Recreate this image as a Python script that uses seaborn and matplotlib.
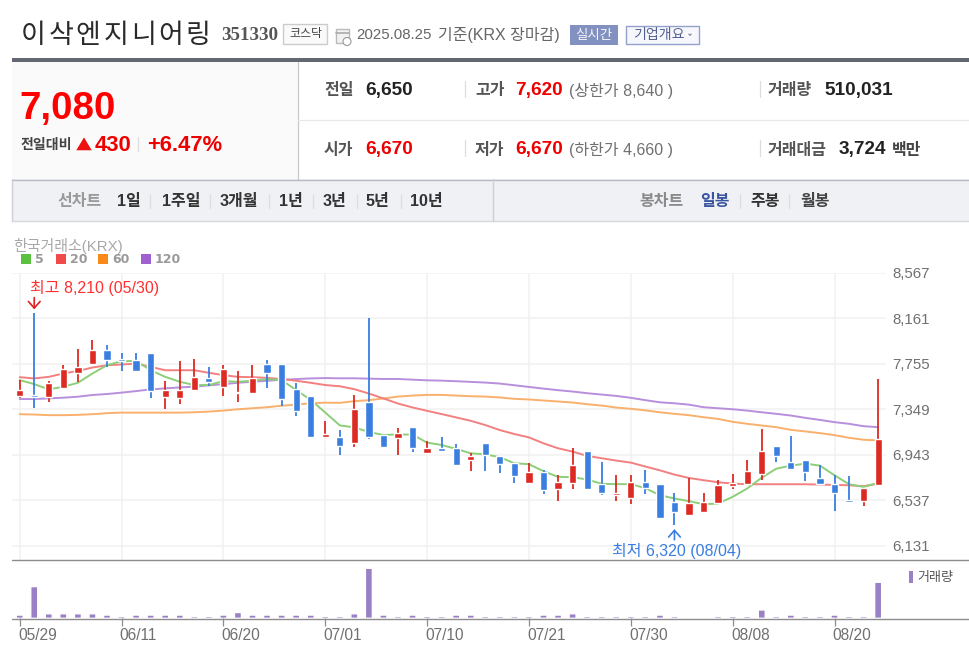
import numpy as np
import pandas as pd
import matplotlib
matplotlib.use('Agg')
import matplotlib.pyplot as plt
from matplotlib.patches import Rectangle, Polygon, Circle
import seaborn as sns

# daily candles
opens = [7470,7470,7460,7540,7670,7750,7880,7800,7790,7850,7460,7450,7520,7630,7550,7490,7490,7750,7750,7530,
         7470,7100,7100,7050,7410,7120,7090,7190,6960,7000,7000,6900,7050,6930,6870,6690,6790,6640,6690,6980,
         6680,6580,6560,6700,6680,6520,6410,6430,6510,6660,6680,6770,7020,6880,6900,6740,6680,6540,6530,6670]
closes = [7520,7460,7580,7710,7730,7880,7790,7780,7690,7510,7520,7520,7640,7590,7710,7500,7630,7670,7440,7330,
          7100,7130,7020,7350,7100,7010,7140,7000,7000,6980,6850,6930,6940,6860,6750,6790,6630,6700,6850,6640,
          6600,6600,6700,6650,6380,6430,6510,6520,6670,6690,6800,6980,6930,6820,6790,6680,6600,6520,6650,7080]
highs = [7610,8210,7600,7740,7890,7970,7920,7850,7850,7850,7600,7780,7800,7730,7740,7690,7740,7790,7750,7580,
         7470,7240,7160,7480,8160,7120,7180,7190,7070,7100,7040,6960,7050,6930,6870,6870,6810,6760,7000,6980,
         6880,6760,6760,6810,6680,6600,6740,6600,6720,6770,6900,7170,7020,7110,6900,6850,6760,6750,6650,7620]
lows = [7450,7360,7410,7530,7590,7750,7730,7690,7680,7450,7350,7400,7510,7560,7470,7410,7490,7540,7380,7290,
        7100,7100,6940,7010,7080,7000,6940,6970,6950,6970,6840,6800,6800,6780,6690,6690,6590,6530,6640,6640,
        6580,6530,6500,6590,6370,6320,6410,6430,6510,6640,6680,6720,6880,6820,6710,6680,6440,6520,6490,6670]
ma5 = [7609,7573,7526,7550,7585,7668,7742,7777,7780,7697,7638,7594,7565,7565,7600,7594,7603,7618,7609,7520,
       7432,7320,7205,7187,7146,7119,7125,7122,7051,7030,6995,6956,6947,6921,6867,6859,6796,6746,6743,6722,
       6684,6681,6681,6645,6582,6553,6529,6502,6508,6568,6642,6739,6819,6846,6864,6846,6760,6680,6656,6692]
ma20 = [7635,7624,7638,7668,7691,7721,7742,7748,7756,7727,7697,7697,7697,7674,7653,7638,7635,7629,7618,7603,
        7585,7565,7554,7528,7489,7445,7400,7365,7335,7306,7276,7246,7208,7163,7128,7098,7045,7001,6971,6933,
        6912,6891,6873,6838,6804,6766,6736,6716,6698,6686,6680,6680,6680,6680,6680,6677,6674,6671,6662,6686]
ma60 = [7305,7302,7296,7296,7299,7305,7314,7319,7319,7319,7319,7319,7322,7328,7337,7349,7358,7367,7381,7390,
        7402,7408,7406,7421,7430,7445,7462,7471,7477,7477,7471,7465,7462,7454,7442,7436,7427,7418,7409,7394,
        7382,7364,7353,7339,7322,7308,7296,7278,7263,7237,7219,7204,7189,7165,7151,7136,7118,7094,7077,7071]
ma120 = [7440,7440,7446,7452,7461,7476,7485,7497,7511,7526,7535,7544,7550,7562,7573,7585,7594,7603,7612,7618,
         7624,7627,7625,7625,7622,7619,7619,7613,7607,7604,7599,7593,7587,7578,7563,7548,7533,7519,7507,7492,
         7480,7468,7451,7430,7411,7402,7390,7367,7358,7349,7337,7322,7308,7293,7272,7254,7234,7219,7198,7189]
volume = [46000,449000,64000,64000,64000,64000,46000,27000,46000,46000,46000,46000,27000,27000,46000,82000,46000,46000,46000,46000,
          46000,27000,27000,64000,708000,46000,27000,46000,27000,27000,46000,46000,27000,27000,27000,27000,46000,46000,64000,27000,
          27000,27000,27000,27000,46000,27000,3000,3000,27000,27000,27000,118000,27000,46000,27000,27000,46000,27000,27000,510031]
price_ticks = [8567,8161,7755,7349,6943,6537,6131]
date_idx = [0,7,14,21,28,35,42,49,56]
date_labels = ['05/29','06/11','06/20','07/01','07/10','07/21','07/30','08/08','08/20']

sns.set_theme(style='white')
KR = ['Liberation Sans', 'Noto Sans CJK KR']
plt.rcParams['font.family'] = KR

W, H = 970, 668
fig = plt.figure(figsize=(W/100, H/100), dpi=100, facecolor='white')
page = fig.add_axes([0, 0, 1, 1])
page.set_xlim(0, W)
page.set_ylim(H, 0)
page.axis('off')
page.set_zorder(5)


def txt(x, y, s, px, color='#444444', weight='normal', ha='left', family=KR):
    return page.text(x, y+px*0.1, s, fontsize=px*0.72, color=color, fontweight=weight, ha=ha, va='center', family=family)


def box(x0, y0, x1, y1, fc='none', ec='none', lw=1):
    page.add_patch(Rectangle((x0, y0), x1-x0, y1-y0, facecolor=fc, edgecolor=ec, linewidth=lw))


def sep(x, y0, y1, color='#dddddd'):
    page.plot([x, x], [y0, y1], color=color, lw=0.9)


# header
for k, ch in enumerate('이삭엔지니어링'):
    txt(33.5+27.4*k, 33, ch, 27, '#2a2a2a', ha='center', family=['Noto Sans CJK KR'])
txt(221, 34, '351330', 19, '#555555', 'bold', family=['Liberation Serif'])
box(283.5, 23.5, 327.5, 44, '#fafafa', '#cccccc')
txt(305.5, 33, '코스닥', 12, '#444444', ha='center')
box(336, 29, 349, 43, '#f2f2f2', '#bbbbbb')
page.plot([336, 349], [33, 33], color='#aaaaaa', lw=1.2)
page.add_patch(Circle((347, 41.5), 4, facecolor='white', edgecolor='#999999', lw=0.8))
txt(356, 33.5, '2025.08.25', 15, '#666666')
txt(438, 33.5, '기준(KRX 장마감)', 16, '#666666')
box(570, 25, 618, 44.5, '#8291bf')
txt(594, 34, '실시간', 13.5, '#f4f5fa', ha='center')
box(626.5, 25.5, 699.5, 44, '#f6f7fd', '#93a1cc')
txt(633, 33.5, '기업개요', 14, '#54618f')
page.add_patch(Polygon([[686, 33], [694, 33], [690, 37.5]], facecolor='#9298b0'))
box(12, 58, 970, 62, '#636771')

# price summary
box(12, 62, 298, 179, '#fafafa')
page.plot([298, 298], [62, 179], color='#c8c8c8', lw=0.9)
page.plot([298, 970], [120, 120], color='#e8e8e8', lw=0.9)
txt(19.5, 105, '7,080', 38.5, '#ff0000', 'bold')
txt(21, 143.5, '전일대비', 14, '#444444', 'bold')
page.add_patch(Polygon([[75, 151], [93, 151], [84, 136]], facecolor='#ee1111'))
txt(95, 143, '430', 22, '#ee0000', 'bold')
sep(138, 137, 151)
txt(147, 143, '+6.47%', 22, '#ee0000', 'bold')

txt(324, 89, '전일', 16, '#555555', 'bold')
txt(365, 88.5, '6,650', 19, '#222222', 'bold')
txt(324, 148.5, '시가', 16, '#555555', 'bold')
txt(365, 148, '6,670', 19, '#ee0000', 'bold')
sep(465.5, 81, 97)
sep(465.5, 140, 156)
txt(475, 89, '고가', 16, '#555555', 'bold')
txt(515, 88.5, '7,620', 19, '#ee0000', 'bold')
txt(569, 89, '(상한가 8,640 )', 16, '#707070')
txt(475, 148.5, '저가', 16, '#555555', 'bold')
txt(515, 148, '6,670', 19, '#ee0000', 'bold')
txt(569, 148.5, '(하한가 4,660 )', 16, '#707070')
sep(760.5, 81, 97)
sep(760.5, 140, 156)
txt(768, 89, '거래량', 16, '#555555', 'bold')
txt(824, 88.5, '510,031', 19, '#222222', 'bold')
txt(768, 148.5, '거래대금', 16, '#555555', 'bold')
txt(839, 148, '3,724', 19, '#222222', 'bold')
txt(892, 148.5, '백만', 16, '#444444', 'bold')

# period toolbar
box(12, 179, 970, 221, '#f0f1f5')
page.plot([12, 970], [179.5, 179.5], color='#b8b9c2', lw=1)
page.plot([12, 970], [221, 221], color='#d8d8dc', lw=1)
page.plot([12.5, 12.5], [179, 221], color='#cfd0d6', lw=1)
page.plot([493.5, 493.5], [179, 221], color='#cfd0d6', lw=1)
txt(57, 200, '선차트', 16, '#9a9a9a', 'bold')
for x, s in zip([117, 162, 220, 279, 323, 366, 410], ['1일', '1주일', '3개월', '1년', '3년', '5년', '10년']):
    txt(x, 200, s, 16, '#333333', 'bold')
for x in [150.5, 210, 269, 313, 357, 401]:
    sep(x, 194, 208)
txt(639, 200, '봉차트', 16, '#8a8a8a', 'bold')
txt(700, 200, '일봉', 16, '#3a55a0', 'bold')
txt(750, 200, '주봉', 16, '#333333', 'bold')
txt(800, 200, '월봉', 16, '#444444', 'bold')
sep(740, 194, 208)
sep(789, 194, 208)

# legend over the chart
txt(13, 245, '한국거래소(KRX)', 15, '#a8a8a8')
for x0, c, s in zip([21, 56, 98, 141], ['#5cc040', '#f04a4a', '#f98a1a', '#a060d0'], ['5', '20', '60', '120']):
    box(x0, 254, x0+10, 264, c)
    txt(x0+14, 258, s, 12.5, '#999999', 'bold', family=['DejaVu Sans'])

# price panel
left, right = 12, 886
top, bottom = 272.7, 559.5
ax = fig.add_axes([left/W, 1-bottom/H, (right-left)/W, (bottom-top)/H])
ax.patch.set_alpha(0)
x = np.arange(len(closes))
df = pd.DataFrame({'x': x, 'open': opens, 'close': closes, 'high': highs, 'low': lows,
                   'ma5': ma5, 'ma20': ma20, 'ma60': ma60, 'ma120': ma120, 'volume': volume})

ax.set_axisbelow(True)
for v in price_ticks:
    ax.axhline(v, color='#f1f1f1', lw=1.1, zorder=0)
for i in date_idx:
    ax.axvline(i, color='#f1f1f1', lw=1.1, zorder=0)

for col, c in zip(['ma120', 'ma60', 'ma20', 'ma5'], ['#b78fdc', '#f9b06c', '#f28080', '#8ccf78']):
    sns.lineplot(data=df, x='x', y=col, color=c, lw=1.4, ax=ax, zorder=2)

up = df['close'] >= df['open']
colors = np.where(up, '#dd2a22', '#3a7ee0')
ax.vlines(df['x'], df['low'], df['high'], colors=colors, lw=1.3, zorder=3)
ax.bar(df['x'], (df['close']-df['open']).abs().clip(lower=16), bottom=df[['open', 'close']].min(axis=1),
       width=0.5, color=colors, zorder=4)

ax.set_xlim((left-19.7)/14.55, (right-19.7)/14.55)
ax.set_ylim(8567-(bottom-272.7)*8.92, 8567)
ax.set_xticks([])
ax.set_yticks([])
ax.set_xlabel('')
ax.set_ylabel('')
for s in ax.spines.values():
    s.set_visible(False)

for v in price_ticks:
    txt(892, 272.7+(8567-v)/8.92, f'{v:,}', 15, '#707070')

hi = int(np.argmax(highs))
lo = int(np.argmin(lows))
ax.annotate('', xy=(hi, highs[hi]+30), xytext=(hi, highs[hi]+135),
            arrowprops=dict(arrowstyle='->,head_length=0.4,head_width=0.35', color='#e02020', lw=1.2,
                            mutation_scale=12, shrinkA=0, shrinkB=0))
ax.annotate('', xy=(lo, lows[lo]-40), xytext=(lo, lows[lo]-135),
            arrowprops=dict(arrowstyle='->,head_length=0.4,head_width=0.35', color='#3a7ee0', lw=1.2,
                            mutation_scale=12, shrinkA=0, shrinkB=0))
txt(30, 286, '최고 8,210 (05/30)', 16, '#ff3030')
txt(612, 549.5, '최저 6,320 (08/04)', 16, '#3a7ee0')

# volume panel
page.plot([12, 970], [560, 560], color='#8c8c8c', lw=1)
page.plot([12, 970], [618.5, 618.5], color='#8c8c8c', lw=1)
vtop, vbot = 562, 618.3
vax = fig.add_axes([left/W, 1-vbot/H, (right-left)/W, (vbot-vtop)/H])
vax.patch.set_alpha(0)
sns.barplot(data=df, x='x', y='volume', native_scale=True, width=0.48, color='#9a80c4', saturation=1, ax=vax)
for p in vax.patches:
    p.set_snap(False)
vax.set_xlim((left-19.7)/14.55, (right-19.7)/14.55)
vax.set_ylim(0, 797000)
vax.set_yticks([])
vax.set_xticks(date_idx)
vax.set_xticklabels([])
vax.tick_params(axis='x', length=6, width=0.9, color='#8c8c8c', bottom=True, pad=0)
vax.set_xlabel('')
vax.set_ylabel('')
for s in vax.spines.values():
    s.set_visible(False)
for i, s in zip(date_idx, date_labels):
    txt(18+14.55*i, 634, s, 15.5, '#707070')
box(909, 571, 913, 583, '#9a80c4')
txt(917, 576.5, '거래량', 13, '#555555')

fig.savefig('out.png', dpi=100, facecolor='white')
